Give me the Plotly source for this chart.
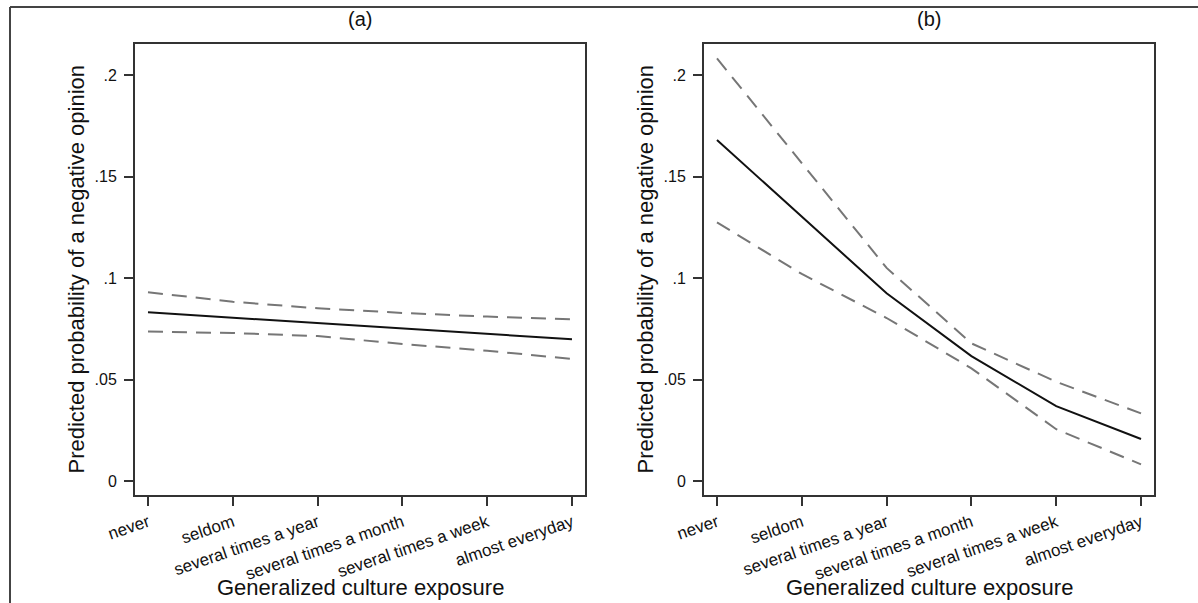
import plotly.graph_objects as go
from plotly.subplots import make_subplots

W, H = 1198, 603

categories = ["never", "seldom", "several times a year", "several times a month",
              "several times a week", "almost everyday"]

# Panel (a): predicted probability with 95% bounds
a_pred = [0.0831, 0.0805, 0.0778, 0.0752, 0.0725, 0.0698]
a_upper = [0.0930, 0.0883, 0.0851, 0.0828, 0.0810, 0.0797]
a_lower = [0.0736, 0.0729, 0.0714, 0.0675, 0.0642, 0.0601]

# Panel (b): predicted probability with 95% bounds
b_pred = [0.168, 0.130, 0.0925, 0.0615, 0.0369, 0.0207]
b_upper = [0.2082, 0.1567, 0.105, 0.0678, 0.0489, 0.0333]
b_lower = [0.1274, 0.102, 0.0803, 0.0555, 0.0255, 0.0082]

y_ticks = [0, 0.05, 0.1, 0.15, 0.2]
y_ticktext = ["0", ".05", ".1", ".15", ".2"]

panel_titles = ["(a)", "(b)"]
x_title = "Generalized culture exposure"
y_title = "Predicted probability of a negative opinion"

FONT = "Liberation Sans, Arial, sans-serif"
FRAME = "#333333"
DASH_COLOR = "#767676"
TEXT = "#111111"


def px_x(v):
    return v / W


def px_y(v):
    return 1 - v / H


fig = make_subplots(rows=1, cols=2)

xpos = list(range(len(categories)))
panels = [(a_pred, a_upper, a_lower), (b_pred, b_upper, b_lower)]
for col, (pred, up, lo) in enumerate(panels, start=1):
    fig.add_trace(go.Scatter(x=xpos, y=up, mode="lines",
                             line=dict(color=DASH_COLOR, width=2, dash="15px,9px"),
                             showlegend=False, hoverinfo="skip"), row=1, col=col)
    fig.add_trace(go.Scatter(x=xpos, y=lo, mode="lines",
                             line=dict(color=DASH_COLOR, width=2, dash="15px,9px"),
                             showlegend=False, hoverinfo="skip"), row=1, col=col)
    fig.add_trace(go.Scatter(x=xpos, y=pred, mode="lines",
                             line=dict(color="#111111", width=2),
                             showlegend=False), row=1, col=col)

# plot-area geometry in pixels
panels_px = [(135, 585), (704, 1154)]
top_px, bottom_px = 44, 495

axis_common = dict(showline=True, mirror=True, linecolor=FRAME, linewidth=2,
                   ticks="outside", ticklen=9, tickwidth=1.5, tickcolor=FRAME,
                   showgrid=False, zeroline=False, automargin=False)

for i, (l, r) in enumerate(panels_px, start=1):
    xa = "xaxis" if i == 1 else f"xaxis{i}"
    ya = "yaxis" if i == 1 else f"yaxis{i}"
    fig.layout[xa].update(domain=[px_x(l), px_x(r)], range=[-0.153, 5.153],
                          tickmode="array", tickvals=xpos, ticktext=categories,
                          tickangle=-19, tickfont=dict(family=FONT, size=17, color=TEXT),
                          **axis_common)
    fig.layout[ya].update(domain=[px_y(bottom_px), px_y(top_px)],
                          range=[-0.0069, 0.2153], tickmode="array",
                          tickvals=y_ticks, ticktext=y_ticktext,
                          ticklabelstandoff=4,
                          tickfont=dict(family=FONT, size=16, color=TEXT),
                          **axis_common)
    cx = (l + r) / 2
    fig.add_annotation(text=panel_titles[i - 1], x=px_x(cx), y=px_y(19),
                       xref="paper", yref="paper", showarrow=False,
                       xanchor="center", yanchor="middle",
                       font=dict(family=FONT, size=20, color=TEXT))
    fig.add_annotation(text=x_title, x=px_x(cx), y=px_y(587),
                       xref="paper", yref="paper", showarrow=False,
                       xanchor="center", yanchor="middle",
                       font=dict(family=FONT, size=22, color=TEXT))
    fig.add_annotation(text=y_title, x=px_x(l - 59), y=px_y((top_px + bottom_px) / 2),
                       xref="paper", yref="paper", showarrow=False, textangle=-90,
                       xanchor="center", yanchor="middle",
                       font=dict(family=FONT, size=22, color=TEXT))

# outer frame (top and left edges)
fig.add_shape(type="line", xref="paper", yref="paper",
              x0=px_x(10), y0=0, x1=px_x(10), y1=px_y(7),
              line=dict(color="#444444", width=2))
fig.add_shape(type="line", xref="paper", yref="paper",
              x0=px_x(10), y0=px_y(7), x1=1, y1=px_y(7),
              line=dict(color="#444444", width=2))

fig.update_layout(width=W, height=H, margin=dict(l=0, r=0, t=0, b=0),
                  paper_bgcolor="white", plot_bgcolor="white",
                  font=dict(family=FONT))

fig.write_html("out.html")
